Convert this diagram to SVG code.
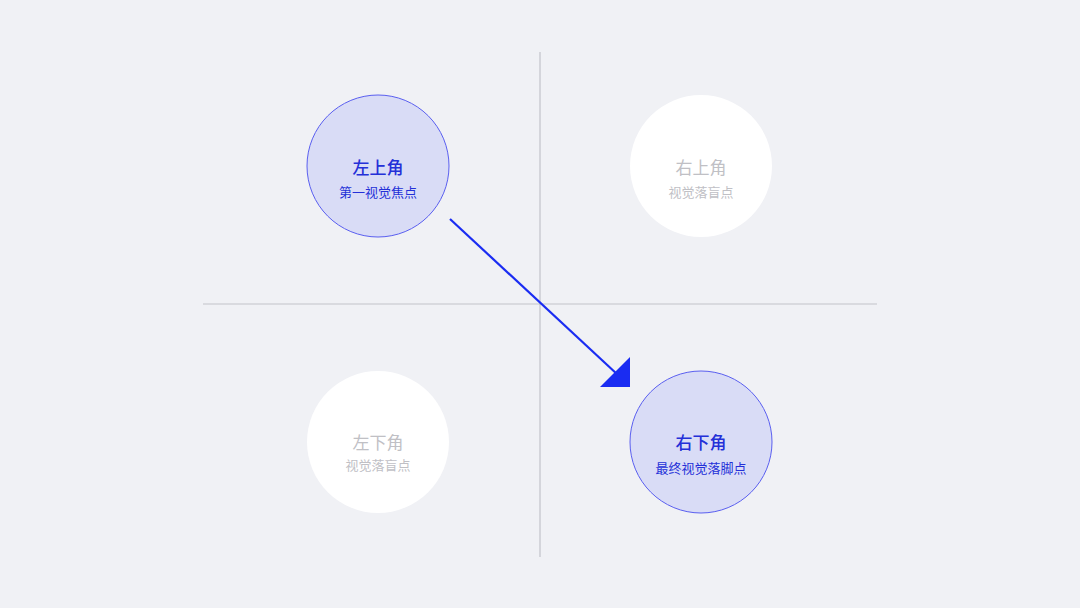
<svg xmlns="http://www.w3.org/2000/svg" width="1080" height="608" viewBox="0 0 1080 608">
<style>
.axis{stroke:#c2c3ca;stroke-width:1.2;fill:none}
.hot circle{fill:#d9dcf6;stroke:#5a5ff0;stroke-width:1}
.cold circle{fill:#ffffff}
text{font-family:"Noto Sans CJK SC","Noto Sans",sans-serif;text-anchor:middle}
.t{font-size:17px;font-weight:500}
.s{font-size:13px}
.hot text{fill:#2430d8}
.cold text{fill:#c0c0c5}
.cold .t{font-weight:400}
</style>
<rect width="1080" height="608" fill="#f0f1f5"/>
<g id="axes">
<line class="axis" x1="540" y1="52" x2="540" y2="557"/>
<line class="axis" x1="203" y1="304" x2="877" y2="304"/>
</g>
<g id="n-tl" class="hot">
<circle cx="378" cy="166" r="71"/>
<text class="t" x="378" y="174">左上角</text>
<text class="s" x="378" y="197">第一视觉焦点</text>
</g>
<g id="n-tr" class="cold">
<circle cx="701" cy="166" r="71"/>
<text class="t" x="701" y="174">右上角</text>
<text class="s" x="701" y="197">视觉落盲点</text>
</g>
<g id="n-bl" class="cold">
<circle cx="378" cy="442" r="71"/>
<text class="t" x="378" y="449">左下角</text>
<text class="s" x="378" y="470">视觉落盲点</text>
</g>
<g id="n-br" class="hot">
<circle cx="701" cy="442" r="71"/>
<text class="t" x="701" y="449">右下角</text>
<text class="s" x="701" y="473">最终视觉落脚点</text>
</g>
<g id="connectors">
<line x1="450" y1="219" x2="618" y2="375" stroke="#1a2cf2" stroke-width="2.2"/>
<polygon points="630,357 630,387 600,387" fill="#1a2cf2"/>
</g>
</svg>
